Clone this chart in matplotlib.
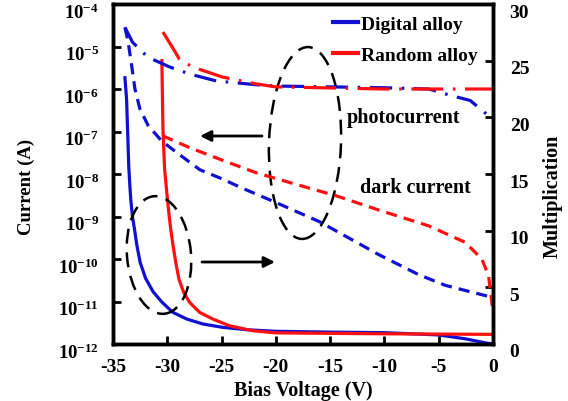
import matplotlib
matplotlib.use("Agg")
import matplotlib.pyplot as plt
import matplotlib.transforms as mtransforms
from matplotlib.patches import Ellipse
from matplotlib.lines import Line2D
from matplotlib.ticker import FixedLocator, FuncFormatter, NullLocator
import numpy as np

plt.rcParams['font.family'] = ['Liberation Serif', 'DejaVu Serif']
plt.rcParams['font.weight'] = 'bold'
plt.rcParams['mathtext.fontset'] = 'custom'
plt.rcParams['mathtext.rm'] = 'Liberation Serif:bold'
plt.rcParams['mathtext.bf'] = 'Liberation Serif:bold'
plt.rcParams['mathtext.it'] = 'Liberation Serif:bold'

# ---- data ----
# Digital alloy multiplication (right axis)
v_dig_mult = [-33.9, -33.75, -33.65, -33.55, -33.45, -33.35, -33.2, -33.0, -32.8,
              -32.5, -32.0, -31.3, -30.5, -29.5, -28.2, -26.7, -24.9, -22.7,
              -20.0, -15.0, -10.0, -5.0, -2.5, -0.7, 0.0]
m_dig = [23.5, 21.6, 18.7, 15.7, 14.0, 12.6, 11.2, 10.0, 8.7,
         7.2, 5.8, 4.6, 3.7, 2.8, 2.2, 1.76, 1.47, 1.26,
         1.12, 1.05, 1.0, 0.8, 0.45, 0.1, 0.0]
# Random alloy multiplication (right axis)
v_rand_mult = [-30.5, -30.4, -30.25, -30.02, -29.86, -29.68, -29.47, -29.22, -28.92,
               -28.49, -27.94, -27.02, -25.8, -24.27, -22.13, -20.0, -10.0, 0.0]
m_rand = [25.0, 19.0, 15.5, 13.1, 11.6, 10.1, 8.7, 7.2, 5.7,
          4.55, 3.67, 2.79, 2.2, 1.61, 1.17, 0.98, 0.9, 0.85]
# Digital alloy dark current (left axis)
v_dig_dark = [-33.9, -33.6, -33.28, -32.98, -32.52, -31.76, -30.53, -29.16, -27.0,
              -24.9, -23.3, -20.0, -16.0, -10.5, -6.83, -4.39, -1.95, -0.72, 0.0]
log_i_dig_dark = [-4.55, -4.90, -5.45, -6.0, -6.47, -6.86, -7.22, -7.49, -7.90,
                  -8.12, -8.31, -8.67, -9.12, -9.90, -10.37, -10.62, -10.78, -10.86, -10.9]
# Random alloy dark current (left axis)
v_rand_dark = [-30.44, -27.94, -24.88, -21.82, -19.0, -16.0, -14.48, -10.5, -5.92,
               -2.55, -1.03, -0.41, 0.0]
log_i_rand_dark = [-7.10, -7.38, -7.68, -7.97, -8.18, -8.40, -8.51, -8.85, -9.22,
                   -9.61, -10.0, -10.39, -11.25]
# Digital alloy photocurrent (left axis)
v_dig_photo = [-33.9, -33.2, -31.8, -29.8, -27.9, -25.5, -21.8, -20.0, -10.0,
               -5.9, -3.78, -2.1, -0.41, 0.0]
log_i_dig_photo = [-4.55, -4.9, -5.25, -5.48, -5.65, -5.81, -5.9, -5.93, -5.97,
                   -6.0, -6.16, -6.27, -6.63, -6.75]
# Random alloy photocurrent (left axis)
v_rand_photo = [-30.4, -29.6, -28.9, -27.7, -24.9, -21.8, -20.0, -10.0, 0.0]
log_i_rand_photo = [-4.66, -4.99, -5.29, -5.48, -5.72, -5.88, -5.95, -6.0, -6.0]

x_ticks = [-35, -30, -25, -20, -15, -10, -5, 0]
left_exps = [-12, -11, -10, -9, -8, -7, -6, -5, -4]
right_ticks = [0, 5, 10, 15, 20, 25, 30]

labels = ['Digital alloy', 'Random alloy']
colors = ['#1010d0', '#ff1010']

# ---- figure ----
fig = plt.figure(figsize=(5.68, 4.02), dpi=100)
ax = fig.add_axes([113/568, 57/402, 380/568, 340/402])
ax2 = ax.twinx()
ax.set_zorder(ax2.get_zorder() + 1)
ax.patch.set_visible(False)

lw = 2.3
ax.plot(v_dig_dark, 10.0**np.array(log_i_dig_dark), color=colors[0], lw=lw, dashes=(3.5, 2.2))
ax.plot(v_dig_photo, 10.0**np.array(log_i_dig_photo), color=colors[0], lw=lw, dashes=(7, 3, 0.8, 3))
ax.plot(v_rand_dark, 10.0**np.array(log_i_rand_dark), color=colors[1], lw=lw, dashes=(3.5, 2.2))
ax.plot(v_rand_photo, 10.0**np.array(log_i_rand_photo), color=colors[1], lw=lw, dashes=(10, 3, 0.8, 3))

ax2.plot(v_dig_mult, m_dig, color=colors[0], lw=lw)
ax2.plot(v_rand_mult, m_rand, color=colors[1], lw=lw)

ax.set_yscale('log')
ax.set_xlim(-35, 0)
ax.set_ylim(1e-12, 1e-4)
ax2.set_ylim(0, 30)

ax.xaxis.set_major_locator(FixedLocator(x_ticks))
ax.yaxis.set_major_locator(FixedLocator([10.0**e for e in left_exps]))
ax.yaxis.set_minor_locator(NullLocator())
ax.yaxis.set_major_formatter(FuncFormatter(lambda v, p: r'$10^{%d}$' % int(round(np.log10(v)))))
ax.xaxis.set_major_formatter(FuncFormatter(lambda v, p: '%d' % v))
ax2.yaxis.set_major_locator(FixedLocator(right_ticks))

for a in (ax, ax2):
    for s in a.spines.values():
        s.set_linewidth(2.5)
    a.tick_params(direction='in', length=6, width=2, labelsize=14)
ax.tick_params(axis='y', pad=10, labelsize=13.5)
ax.tick_params(axis='x', pad=10)
ax2.tick_params(axis='y', pad=12)

# shift y tick labels slightly downward as in the reference
off = mtransforms.ScaledTranslation(0, -6/100, fig.dpi_scale_trans)
for t in ax.yaxis.get_major_ticks():
    t.label1.set_transform(t.label1.get_transform() + off)
for t in ax2.yaxis.get_major_ticks():
    t.label2.set_transform(t.label2.get_transform() + off)

ax.set_xlabel('Bias Voltage (V)', fontsize=14.5, fontweight='bold')
ax.xaxis.set_label_coords(0.5, -0.105)
ax.set_ylabel('Current (A)', fontsize=13.5, fontweight='bold')
ax.yaxis.set_label_coords(-0.205, 0.466)
ax2.set_ylabel('Multiplication', fontsize=14.5, fontweight='bold')
ax2.yaxis.set_label_coords(1.132, 0.438)

# texts
ax.text((404-113)/380, (345-118)/340, 'photocurrent', transform=ax.transAxes,
        ha='center', va='center', fontsize=14.5, fontweight='bold')
ax.text((415-113)/380, (345-188)/340, 'dark current', transform=ax.transAxes,
        ha='center', va='center', fontsize=14.5, fontweight='bold')

# ellipses (pixel-based geometry relative to axes)
ptrans = mtransforms.Affine2D().scale(1/380, 1/340) + ax.transAxes
e1 = Ellipse((192, 201), 72, 192, angle=-2, transform=ptrans, fill=False,
             edgecolor='black', lw=1.8, linestyle=(0, (6, 3.5)), clip_on=False)
e2 = Ellipse((46, 89), 64, 118, angle=5, transform=ptrans, fill=False,
             edgecolor='black', lw=1.8, linestyle=(0, (6, 3.5)), clip_on=False)
ax.add_patch(e1)
ax.add_patch(e2)

# arrows
ap = dict(arrowstyle='-|>', lw=2, color='black', mutation_scale=16, shrinkA=0, shrinkB=0)
ax.annotate('', xy=((200-113)/380, (345-137)/340), xytext=((262-113)/380, (345-137)/340),
            xycoords='axes fraction', textcoords='axes fraction', arrowprops=ap)
ax.annotate('', xy=((275-113)/380, (345-263)/340), xytext=((202-113)/380, (345-263)/340),
            xycoords='axes fraction', textcoords='axes fraction', arrowprops=ap)

handles = [Line2D([], [], color=c, lw=3) for c in colors]
ax.legend(handles, labels, loc='upper left', bbox_to_anchor=((333-113)/380, (345-16)/340),
          frameon=False, handlelength=1.3, handletextpad=0.15,
          labelspacing=0.7, borderpad=0, borderaxespad=0,
          prop={'weight': 'bold', 'size': 14})

fig.savefig('out.png', dpi=100)
